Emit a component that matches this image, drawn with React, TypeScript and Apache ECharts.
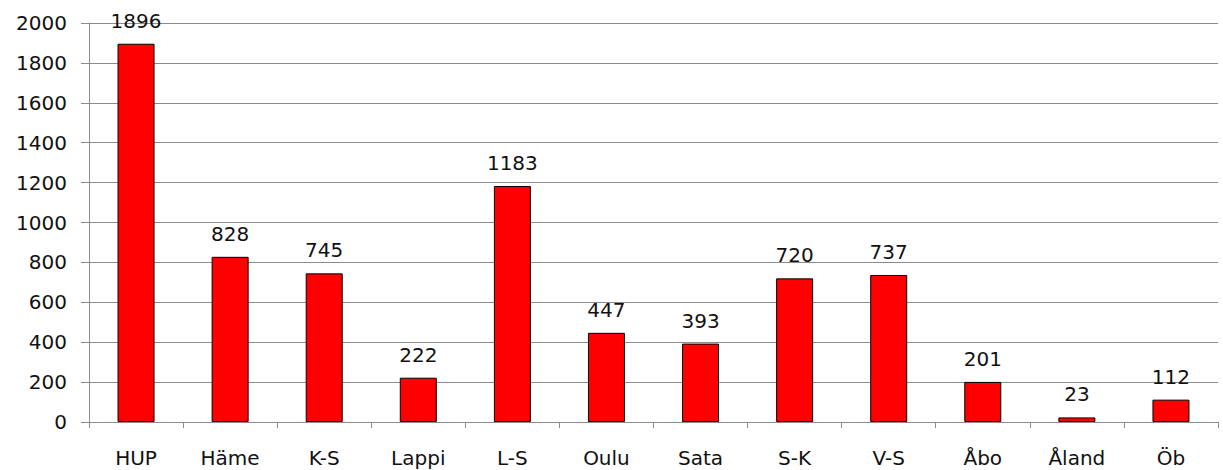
import React, { useEffect, useRef } from "react";
import * as echarts from "echarts";

const categories = ["HUP", "Häme", "K-S", "Lappi", "L-S", "Oulu", "Sata", "S-K", "V-S", "Åbo", "Åland", "Öb"];
const values = [1896, 828, 745, 222, 1183, 447, 393, 720, 737, 201, 23, 112];

export default function App() {
  const ref = useRef<HTMLDivElement>(null);
  useEffect(() => {
    const chart = echarts.init(ref.current!, undefined, { renderer: "svg" });
    const font = "DejaVu Sans, Verdana, sans-serif";
    chart.setOption({
      animation: false,
      grid: { left: 89, right: 5, top: 23, bottom: 48, containLabel: false },
      xAxis: {
        type: "category",
        data: categories,
        axisLine: { show: true, lineStyle: { color: "#8c8c8c", width: 1 } },
        axisTick: { show: true, length: 6, alignWithLabel: false, lineStyle: { color: "#8c8c8c" } },
        axisLabel: { color: "#111", fontFamily: font, fontSize: 20, margin: 26 },
        splitLine: { show: false },
      },
      yAxis: {
        type: "value",
        min: 0,
        max: 2000,
        interval: 200,
        axisLine: { show: true, lineStyle: { color: "#8c8c8c", width: 1 } },
        axisTick: { show: true, length: 8, inside: false, lineStyle: { color: "#8c8c8c" } },
        axisLabel: {
          color: "#111",
          fontFamily: font,
          fontSize: 20,
          margin: 22,
          formatter: (v: number) => String(v),
        },
        splitLine: { show: true, lineStyle: { color: "#8c8c8c", width: 1 } },
      },
      series: [
        {
          type: "bar",
          data: values,
          barWidth: 37,
          itemStyle: { color: "#ff0000", borderColor: "#000", borderWidth: 1 },
          label: {
            show: true,
            position: "top",
            distance: 13,
            color: "#111",
            fontFamily: font,
            fontSize: 20,
          },
        },
      ],
    });
    return () => chart.dispose();
  }, []);
  return <div ref={ref} style={{ width: 1223, height: 470, position: "absolute", left: 0, top: 0 }} />;
}
